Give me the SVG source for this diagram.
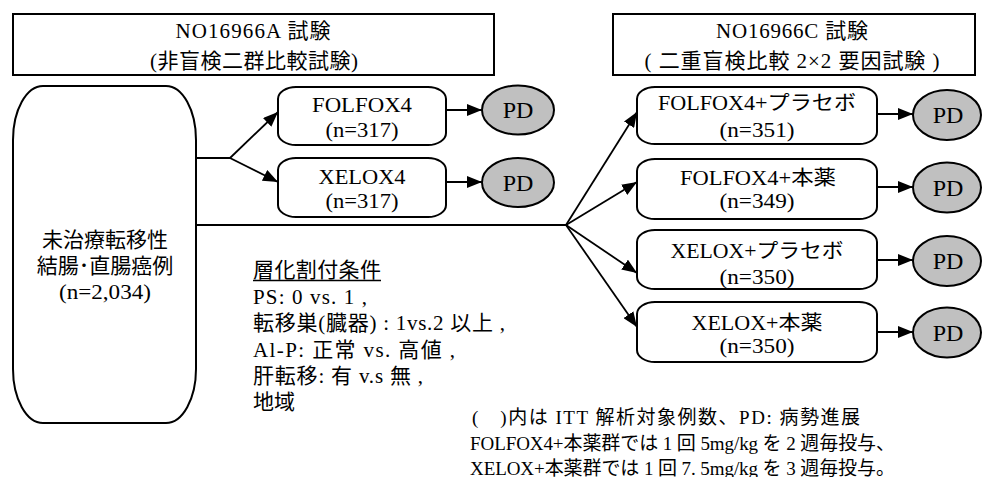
<svg xmlns="http://www.w3.org/2000/svg" width="983" height="477" viewBox="0 0 983 477" font-family="'Liberation Serif','Noto Sans CJK JP',serif">
<style>
text{font-family:'Liberation Serif','Noto Sans CJK JP',serif;fill:#000;text-anchor:middle}
.h{font-size:21px}
.b{font-size:20px}
.c{font-size:21px}
.pd{font-size:24px}
.l{text-anchor:start;font-size:21px}
.n{text-anchor:start;font-size:19px}
.box{fill:#fff;stroke:#000;stroke-width:2}
.ell{fill:#c0c0c0;stroke:#000;stroke-width:2}
.ln{fill:none;stroke:#000;stroke-width:1.8}
</style>
<defs>
<marker id="ah" markerUnits="userSpaceOnUse" markerWidth="16" markerHeight="12" refX="15" refY="6" orient="auto">
<path d="M0,0 L15,6 L0,12 Z" fill="#000"/>
</marker>
</defs>

<g id="connectors">
<path class="ln" d="M197,158 H230"/>
<path class="ln" d="M230,158 L278,112" marker-end="url(#ah)"/>
<path class="ln" d="M230,158 L278,182" marker-end="url(#ah)"/>
<path class="ln" d="M446,110 H482" marker-end="url(#ah)"/>
<path class="ln" d="M446,182 H482" marker-end="url(#ah)"/>
<path class="ln" d="M197,225 H566"/>
<path class="ln" d="M566,225 L637,112" marker-end="url(#ah)"/>
<path class="ln" d="M566,225 L637,182" marker-end="url(#ah)"/>
<path class="ln" d="M566,225 L637,273" marker-end="url(#ah)"/>
<path class="ln" d="M566,225 L637,327" marker-end="url(#ah)"/>
<path class="ln" d="M877,114 H913" marker-end="url(#ah)"/>
<path class="ln" d="M877,187 H913" marker-end="url(#ah)"/>
<path class="ln" d="M877,260 H913" marker-end="url(#ah)"/>
<path class="ln" d="M877,332 H913" marker-end="url(#ah)"/>
</g>

<g id="headerA">
<rect class="box" x="13" y="14" width="481" height="61"/>
<text class="h" x="253" y="38" textLength="155">NO16966A 試験</text>
<text class="h" x="254" y="68" textLength="208" lengthAdjust="spacing">(非盲検二群比較試験)</text>
</g>

<g id="headerC">
<rect class="box" x="613" y="14" width="362" height="61"/>
<text class="h" x="792" y="38" textLength="152">NO16966C 試験</text>
<text class="h" x="792" y="68" textLength="295" lengthAdjust="spacing">( 二重盲検比較 2×2 要因試験 )</text>
</g>

<g id="patients">
<rect class="box" x="13" y="86" width="183" height="337" rx="30" ry="54"/>
<text class="c" x="105" y="247">未治療転移性</text>
<text class="c" x="105" y="273">結腸･直腸癌例</text>
<text class="c" x="105" y="299" textLength="92" lengthAdjust="spacingAndGlyphs">(n=2,034)</text>
</g>

<g id="folfox4">
<rect class="box" x="278" y="87" width="168" height="58" rx="18" ry="12"/>
<text class="b" x="362" y="112" textLength="100" lengthAdjust="spacingAndGlyphs">FOLFOX4</text>
<text class="b" x="362" y="137" textLength="73" lengthAdjust="spacingAndGlyphs">(n=317)</text>
</g>
<g id="xelox4">
<rect class="box" x="278" y="158" width="168" height="59" rx="18" ry="12"/>
<text class="b" x="362" y="184" textLength="87" lengthAdjust="spacingAndGlyphs">XELOX4</text>
<text class="b" x="362" y="208" textLength="73" lengthAdjust="spacingAndGlyphs">(n=317)</text>
</g>
<g id="pdA1">
<ellipse class="ell" cx="518" cy="110" rx="36" ry="24.5"/>
<text class="pd" x="518" y="118">PD</text>
</g>
<g id="pdA2">
<ellipse class="ell" cx="518" cy="182.5" rx="36" ry="24.5"/>
<text class="pd" x="518" y="190.5">PD</text>
</g>

<g id="c1">
<rect class="box" x="637" y="87" width="240" height="57" rx="18" ry="12"/>
<text class="b" x="757" y="110" textLength="198" lengthAdjust="spacingAndGlyphs">FOLFOX4+プラセボ</text>
<text class="b" x="757" y="137" textLength="75" lengthAdjust="spacingAndGlyphs">(n=351)</text>
</g>
<g id="c2">
<rect class="box" x="637" y="159" width="240" height="60" rx="18" ry="12"/>
<text class="b" x="758" y="185" textLength="156" lengthAdjust="spacingAndGlyphs">FOLFOX4+本薬</text>
<text class="b" x="757" y="208" textLength="75" lengthAdjust="spacingAndGlyphs">(n=349)</text>
</g>
<g id="c3">
<rect class="box" x="637" y="230" width="240" height="59" rx="18" ry="12"/>
<text class="b" x="757" y="258" textLength="173" lengthAdjust="spacingAndGlyphs">XELOX+プラセボ</text>
<text class="b" x="757" y="284" textLength="75" lengthAdjust="spacingAndGlyphs">(n=350)</text>
</g>
<g id="c4">
<rect class="box" x="637" y="302" width="240" height="60" rx="18" ry="12"/>
<text class="b" x="757" y="330" textLength="131" lengthAdjust="spacingAndGlyphs">XELOX+本薬</text>
<text class="b" x="757" y="353" textLength="75" lengthAdjust="spacingAndGlyphs">(n=350)</text>
</g>

<g id="pdC1">
<ellipse class="ell" cx="947" cy="115" rx="34" ry="25"/>
<text class="pd" x="948" y="123">PD</text>
</g>
<g id="pdC2">
<ellipse class="ell" cx="947" cy="187.5" rx="34" ry="25"/>
<text class="pd" x="948" y="195.5">PD</text>
</g>
<g id="pdC3">
<ellipse class="ell" cx="947" cy="261" rx="34" ry="25"/>
<text class="pd" x="948" y="269">PD</text>
</g>
<g id="pdC4">
<ellipse class="ell" cx="947" cy="332.5" rx="34" ry="25"/>
<text class="pd" x="948" y="340.5">PD</text>
</g>

<g id="strat">
<text class="l" x="253" y="277" textLength="128">層化割付条件</text>
<path d="M253,280.5 H381" stroke="#000" stroke-width="1.6"/>
<text class="l" x="253" y="304" textLength="114">PS: 0 vs. 1 ,</text>
<text class="l" x="253" y="330" textLength="252">転移巣(臓器) : 1vs.2 以上 ,</text>
<text class="l" x="253" y="357" textLength="202">Al-P: 正常 vs. 高値 ,</text>
<text class="l" x="253" y="383" textLength="170">肝転移: 有 v.s 無 ,</text>
<text class="l" x="253" y="409">地域</text>
</g>

<g id="note">
<text class="n" x="472" y="424" textLength="388">(　)内は ITT 解析対象例数、PD: 病勢進展</text>
<text class="n" x="470" y="450" textLength="425">FOLFOX4+本薬群では 1 回 5mg/kg を 2 週毎投与、</text>
<text class="n" x="470" y="475" textLength="425">XELOX+本薬群では 1 回 7. 5mg/kg を 3 週毎投与。</text>
</g>
</svg>
